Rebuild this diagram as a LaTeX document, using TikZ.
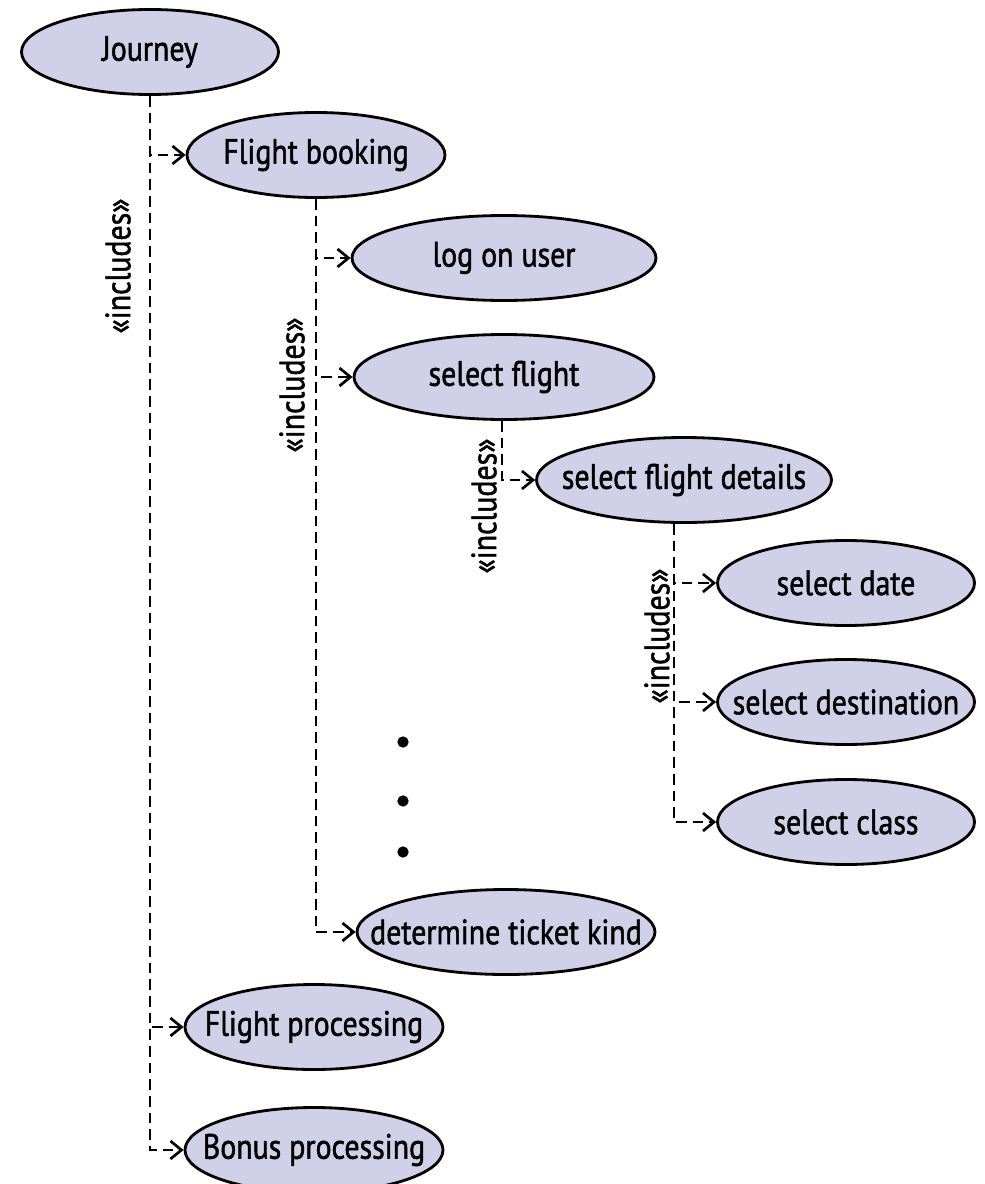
\documentclass[tikz,border=0pt]{standalone}
\usepackage{fontspec}
\setsansfont[FakeStretch=0.85, FakeBold=1.4]{PT Sans}
\usepackage{tikz}
\usetikzlibrary{shapes.geometric, arrows.meta, positioning}
\usepackage{xcolor}
\definecolor{ucFill}{RGB}{208,208,232}
\tikzset{
    font=\sffamily\fontsize{30}{33}\selectfont,
    >={Straight Barb[length=3.3mm, width=5.4mm]},
    % Use cases (text box kept at zero width so the ellipse size is fixed)
    useCase/.style={ellipse, draw=black, fill=ucFill, line width=2.4pt,
                    inner sep=0pt, minimum height=2.55cm,
                    execute at begin node={\hbox to 0pt\bgroup\hss},
                    execute at end node={\hss\egroup}},
    % Flow & Labels
    incl/.style={->, line width=2.3pt, dash pattern=on 3.2mm off 1.8mm},
    lbl/.style={rotate=90, inner sep=0pt}
}
\begin{document}
\begin{tikzpicture}[x=0.03cm, y=-0.03cm]
\useasboundingbox (0,0) rectangle (984,1184);

\node[useCase, minimum width=7.71cm] (journey) at (150,52) {Journey};
\node[useCase, minimum width=7.74cm] (fbook) at (316,155) {Flight booking};
\node[useCase, minimum width=9.12cm] (logon) at (504,258) {log on user};
\node[useCase, minimum width=9.0cm] (selFlight) at (504,377) {select flight};
\node[useCase, minimum width=8.85cm] (details) at (684,480) {select flight details};
\node[useCase, minimum width=7.71cm] (date) at (846,583) {select date};
\node[useCase, minimum width=7.71cm] (dest) at (846,702) {select destination};
\node[useCase, minimum width=7.71cm] (cls) at (846,822) {select class};
\node[useCase, minimum width=8.94cm] (ticket) at (506,932) {determine ticket kind};
\node[useCase, minimum width=7.74cm] (fproc) at (314,1027) {Flight processing};
\node[useCase, minimum width=7.74cm] (bonus) at (314,1150) {Bonus processing};

\node[lbl] (lblJourney) at (118,266) {«includes»};
\node[lbl] (lblFbook) at (292,385) {«includes»};
\node[lbl] (lblSelFlight) at (484,506) {«includes»};
\node[lbl] (lblDetails) at (657,636) {«includes»};

\draw[incl] (journey.south) |- (fbook.west);
\draw[incl] (journey.south) |- (fproc.west);
\draw[incl] (journey.south) |- (bonus.west);

\draw[incl] (fbook.south) |- (logon.west);
\draw[incl] (fbook.south) |- (selFlight.west);
\draw[incl] (fbook.south) |- (ticket.west);

\draw[incl] ([xshift=-0.6mm]selFlight.south) |- (details.west);

\draw[incl] ([xshift=-3mm]details.south) |- (date.west);
\draw[incl] ([xshift=-3mm]details.south) |- (dest.west);
\draw[incl] ([xshift=-3mm]details.south) |- (cls.west);

% more included use cases
\foreach \y in {742,801,852}
    \fill (403,\y) circle (1.7mm);

\end{tikzpicture}
\end{document}
